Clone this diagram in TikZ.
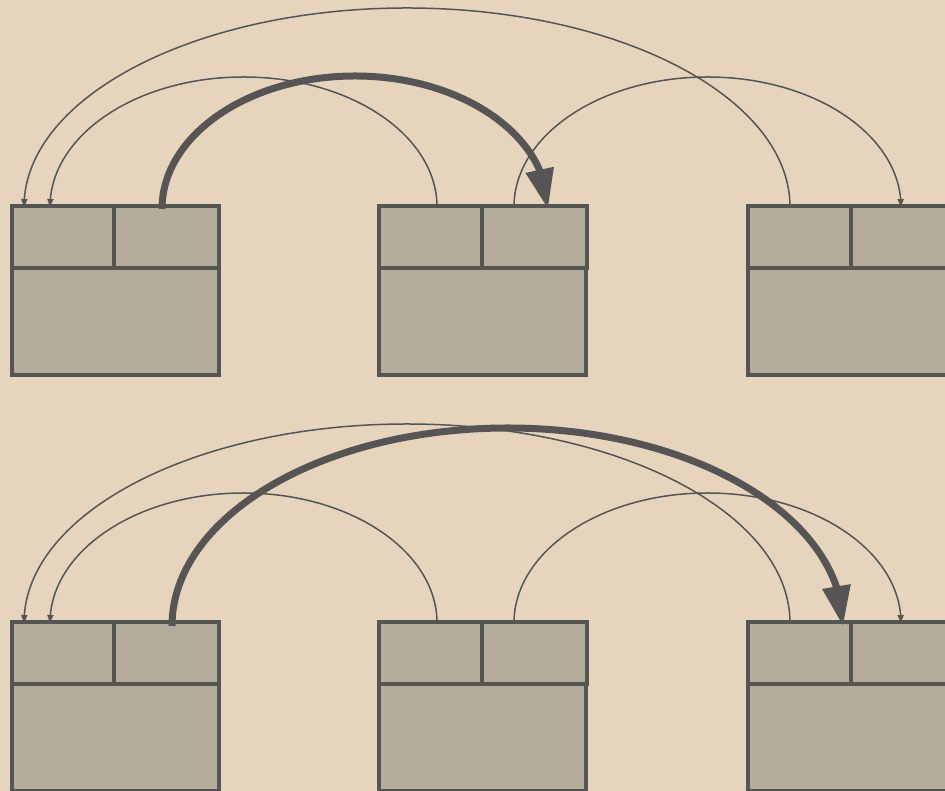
\documentclass[tikz,border=0pt]{standalone}
\usetikzlibrary{arrows.meta,bending}
\definecolor{paper}{HTML}{E6D5BC}
\definecolor{boxfill}{HTML}{B4AD9C}
\definecolor{ink}{HTML}{555555}
\begin{document}
\begin{tikzpicture}[x=1pt,y=1pt,
  cell/.style={draw=ink, fill=boxfill, line width=4pt, rectangle, inner sep=0pt, outer sep=0pt, anchor=north west},
  topcell/.style={cell, minimum height=62pt},
  lowcell/.style={cell, minimum width=207pt, minimum height=107pt},
  thinlink/.style={draw=ink, line width=1.5pt, -{Triangle[length=8pt,width=6pt,flex]}},
  boldlink/.style={draw=ink, line width=7pt, -{Triangle[length=40pt,width=27pt,flex]}}]
  \fill[paper] (0,0) rectangle (945,791);
  \useasboundingbox (0,0) rectangle (945,791);
  \clip (0,0) rectangle (945,791);

  % three records per row, each split into two fields over a body
  \foreach \r/\yt in {A/585, B/169} {
    \foreach \c/\xl/\xm in {1/12/114, 2/379/482, 3/748/851} {
      \node[lowcell] (\r\c b) at (\xl,\yt-62) {};
      \node[topcell, minimum width=\xm-\xl] (\r\c l) at (\xl,\yt) {};
      \node[topcell, minimum width=105pt] (\r\c r) at (\xm,\yt) {};
    }
  }

  % link end points on the field tops
  \coordinate (A3s) at (790,584);
  \coordinate (A2s) at (437,584);
  \coordinate (A2t) at (514,584);
  \coordinate (A1t) at (162,582);
  \coordinate (B3s) at (790,168);
  \coordinate (B2s) at (437,168);
  \coordinate (B2t) at (514,168);
  \coordinate (B1t) at (172,165);

  % upper row
  \draw[thinlink] (A3s) arc[start angle=0, end angle=180, x radius=383pt, y radius=199pt];
  \draw[thinlink] (A2s) arc[start angle=0, end angle=180, x radius=193.5pt, y radius=130pt];
  \draw[thinlink] (A2t) arc[start angle=180, end angle=0, x radius=193.5pt, y radius=130pt];
  \draw[boldlink] (A1t) arc[start angle=180, end angle=0, x radius=193pt, y radius=133pt];

  % lower row
  \draw[thinlink] (B3s) arc[start angle=0, end angle=180, x radius=383pt, y radius=199pt];
  \draw[thinlink] (B2s) arc[start angle=0, end angle=180, x radius=193.5pt, y radius=130pt];
  \draw[thinlink] (B2t) arc[start angle=180, end angle=0, x radius=193.5pt, y radius=130pt];
  \draw[boldlink] (B1t) arc[start angle=180, end angle=0, x radius=335.5pt, y radius=198pt];
\end{tikzpicture}
\end{document}
